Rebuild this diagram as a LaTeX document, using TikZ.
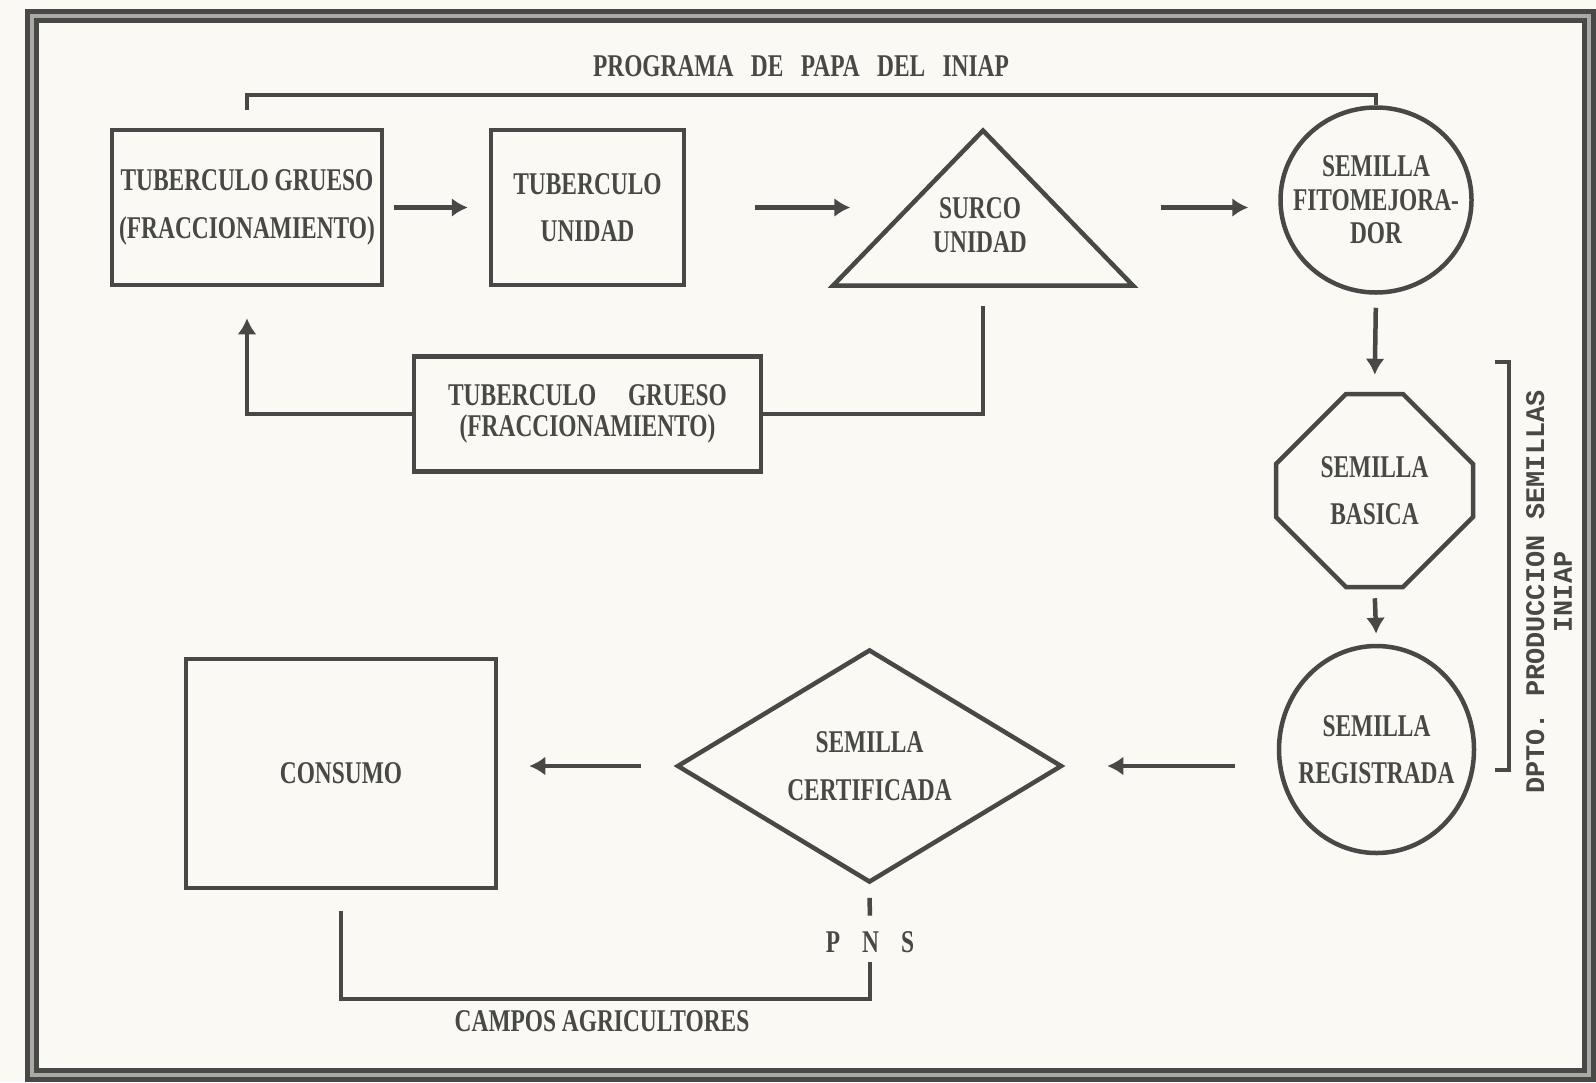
\documentclass[tikz,border=0pt]{standalone}
\usepackage{fontspec}
\setmainfont[FakeStretch=0.74]{Liberation Serif}
\setmonofont{Liberation Mono}
\usetikzlibrary{shapes.geometric,shapes.misc,arrows.meta}
\definecolor{ink}{RGB}{72,72,70}
\definecolor{paper}{RGB}{250,249,243}

\begin{document}
\begin{tikzpicture}[x=0.2mm,y=-0.2mm,
  every node/.style={text=ink,font=\bfseries\fontsize{18}{27}\selectfont,align=center},
  shp/.style={draw=ink,line width=0.9mm,inner sep=0pt},
  wire/.style={draw=ink,line width=0.9mm},
  flow/.style={draw=ink,line width=0.9mm,-{Latex[length=3.2mm,width=3.8mm]}}]
\fill[paper] (0,0) rectangle (1596,1082);
\useasboundingbox (0,0) rectangle (1596,1082);
\draw[ink,line width=1.1mm,double=paper!55!ink,double distance=0.7mm] (32,16) rectangle (1589,1075);

% fila superior
\node[shp,rectangle,minimum width=54mm,minimum height=31mm] (tgA) at (247,207.5) {TUBERCULO GRUESO\\(FRACCIONAMIENTO)};
\node[shp,rectangle,minimum width=38.6mm,minimum height=31mm] (tuB) at (587.5,207.5) {TUBERCULO\\UNIDAD};
\node[shp,isosceles triangle,isosceles triangle stretches,shape border rotate=90,
  minimum width=60mm,minimum height=31mm] (tri) at (983,222) {};
\node[font=\bfseries\fontsize{18}{19}\selectfont] (surco) at (980,225) {SURCO\\UNIDAD};
\node[shp,ellipse,inner sep=-4mm,minimum width=38.2mm,minimum height=37mm,font=\bfseries\fontsize{18}{19}\selectfont] (fito) at (1376,200) {SEMILLA\\FITOMEJORA-\\DOR};

% columna derecha
\node[shp,chamfered rectangle,chamfered rectangle xsep=6.5mm,chamfered rectangle ysep=7.5mm,
  minimum width=39.4mm,minimum height=38.6mm] (basica) at (1374.5,490.5) {SEMILLA\\BASICA};
\node[shp,ellipse,inner sep=-3mm,minimum width=39mm,minimum height=41.4mm] (regis) at (1376.5,749.5) {SEMILLA\\REGISTRADA};

% fila inferior
\node[shp,diamond,minimum width=77mm,minimum height=46mm] (cert) at (869.5,766) {SEMILLA\\CERTIFICADA};
\node[shp,rectangle,minimum width=62mm,minimum height=45.8mm] (cons) at (341,773.5) {CONSUMO};
\node[shp,rectangle,minimum width=69.4mm,minimum height=23mm,font=\bfseries\fontsize{18}{17.5}\selectfont] (tgI) at (587.5,414) {TUBERCULO\quad GRUESO\\(FRACCIONAMIENTO)};

% textos
\node (titulo) at (801,66) {PROGRAMA\hspace{0.55em}DE\hspace{0.55em}PAPA\hspace{0.55em}DEL\hspace{0.55em}INIAP};
\node (campos) at (602,1021) {CAMPOS AGRICULTORES};
\node[inner sep=0pt] (pns) at (870,942) {P\hspace{0.7em}N\hspace{0.7em}S};
\node[rotate=90,font=\ttfamily\bfseries\fontsize{15.3}{15.9}\selectfont] (dpto) at (1549,592) {DPTO. PRODUCCION SEMILLAS\\INIAP};

% flechas
\draw[flow,shorten <=2mm,shorten >=4.2mm] (tgA.east) -- (tuB.west);
\draw[flow,shorten <=13.8mm,shorten >=8mm] (tuB.east) -- (tuB.east -| tri.west);
\draw[flow,shorten <=17mm,shorten >=6mm] (tuB.east -| tri.east) -- (tuB.east -| fito.west);
\draw[flow,shorten <=2.6mm,shorten >=3.4mm] (fito.south) -- (basica.north);
\draw[flow,shorten <=1.8mm,shorten >=2mm] (basica.south) -- (regis.north);
\draw[flow,shorten <=8.4mm,shorten >=8.6mm] (regis.west |- cert.east) -- (cert.east);
\draw[flow,shorten <=6.8mm,shorten >=6.2mm] (cert.west) -- (cert.west -| cons.east);

% lazos
\draw[wire,shorten <=3.6mm] (tgA.north) -- ++(0,-33) -| (fito.north);
\draw[wire,shorten <=3.6mm] (tri.south) |- (tgI.east);
\draw[flow,shorten >=6.2mm] (tgI.west) -| (tgA.south);
\draw[wire,shorten <=2.6mm,shorten >=3.1mm] (cert.south) -- (pns.north);
\draw[wire,shorten <=1.9mm,shorten >=4.2mm] (pns.south) -- ++(0,46) -| (cons.south);

% llave derecha
\draw[wire,line width=0.8mm] (1495,362) -- (1509,362) -- (1509,770) -- (1495,770);
\end{tikzpicture}
\end{document}
